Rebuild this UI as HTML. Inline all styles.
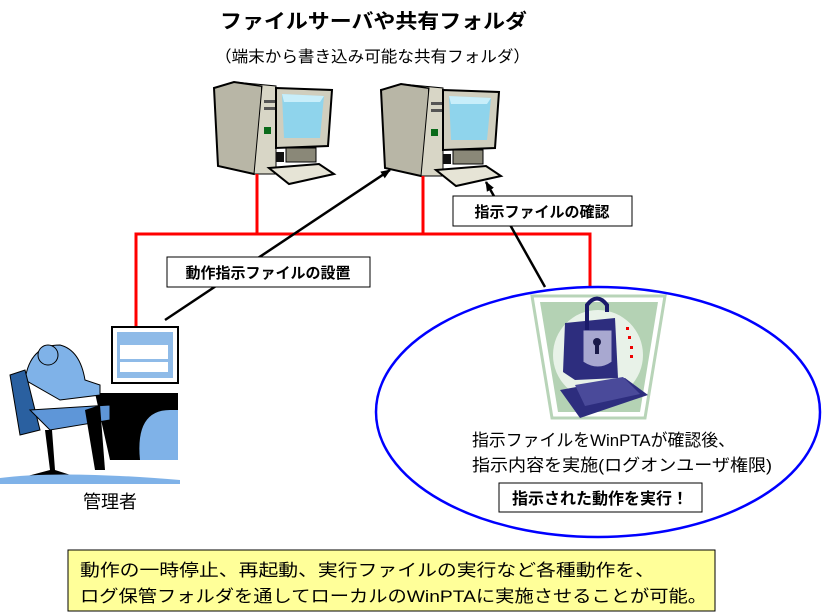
<!DOCTYPE html>
<html><head><meta charset="utf-8"><style>
html,body{margin:0;padding:0;background:#fff;}
svg{display:block;font-family:"Liberation Sans","Noto Sans CJK JP",sans-serif;}
</style></head><body>
<svg width="826" height="615" viewBox="0 0 826 615" xmlns="http://www.w3.org/2000/svg">
<defs>
<marker id="ah" markerWidth="10" markerHeight="10" refX="9" refY="5" orient="auto" markerUnits="userSpaceOnUse">
<path d="M0,1 L10,5 L0,9 z" fill="#000"/></marker>
<g id="pc">
 <path d="M0,6 L20,0 L48,4 L50,82 L40,92 L4,84 Z" fill="#b8b6a6" stroke="#000" stroke-width="2"/>
 <path d="M20,0 L62,4 L62,92 L40,92 L48,4 Z" fill="#d8d6c6" stroke="#000" stroke-width="1"/>
 <rect x="50" y="18" width="18" height="3" fill="#555"/>
 <rect x="50" y="25" width="18" height="3" fill="#555"/>
 <rect x="50" y="45" width="7" height="7" fill="#0a6a1a"/>
 <path d="M62,6 L118,8 L114,64 L62,66 Z" fill="#d0cebe" stroke="#000" stroke-width="2"/>
 <path d="M68,12 L110,14 L106,56 L70,56 Z" fill="#8fd4ec"/>
 <path d="M68,12 L110,14 L106,20 L70,20 Z" fill="#c8eefa"/>
 <rect x="72" y="66" width="30" height="14" fill="#8a8878" stroke="#000"/>
 <rect x="62" y="70" width="8" height="10" fill="#111"/>
 <path d="M55,86 L105,82 L120,92 L75,102 Z" fill="#e6e4d6" stroke="#000" stroke-width="2"/>
</g>
</defs>

<text x="220" y="28" font-size="20" font-weight="bold" textLength="307" lengthAdjust="spacingAndGlyphs">ファイルサーバや共有フォルダ</text>
<text x="215" y="62" font-size="16" textLength="315" lengthAdjust="spacingAndGlyphs">（端末から書き込み可能な共有フォルダ）</text>

<use href="#pc" x="214" y="82"/>
<use href="#pc" x="381" y="84"/>

<g stroke="#f00" stroke-width="3" fill="none">
<line x1="257" y1="174" x2="257" y2="234"/>
<line x1="423" y1="176" x2="423" y2="234"/>
<polyline points="136,330 136,234 590,234 590,288"/>
</g>

<line x1="165" y1="320" x2="390" y2="170" stroke="#000" stroke-width="2.5" marker-end="url(#ah)"/>
<line x1="545" y1="287" x2="486" y2="182" stroke="#000" stroke-width="2.5" marker-end="url(#ah)"/>

<rect x="167" y="257" width="203" height="30" fill="#fff" stroke="#000"/>
<text x="268" y="278" font-size="15" font-weight="bold" text-anchor="middle">動作指示ファイルの設置</text>
<rect x="453" y="196" width="179" height="30" fill="#fff" stroke="#000"/>
<text x="542" y="217" font-size="15" font-weight="bold" text-anchor="middle">指示ファイルの確認</text>

<ellipse cx="598" cy="412" rx="222" ry="125" fill="#fff" stroke="#00f" stroke-width="2.5"/>

<path d="M532,296 L665,296 L645,418 L552,418 Z" fill="#fff" stroke="#b8d4b8" stroke-width="3"/>
<path d="M540,302 L658,302 L640,412 L558,412 Z" fill="#b4d2b4"/>
<ellipse cx="598" cy="355" rx="45" ry="45" fill="#e8f2e8"/>
<path d="M565,323 L615,318 L618,378 L575,380 L563,372 Z" fill="#2d2d7e"/>
<path d="M583,330 L612,330 L612,362 Q598,372 583,362 Z" fill="#a8a8d0" stroke="#2d2d7e"/>
<circle cx="597" cy="342" r="4" fill="#1a1a4a"/>
<path d="M595,344 L599,344 L599,354 L595,354 Z" fill="#1a1a4a"/>
<path d="M587,330 L587,305 Q597,292 607,305 L607,312" fill="none" stroke="#1a1a6a" stroke-width="4"/>
<path d="M560,390 L625,378 L648,395 L580,418 Z" fill="#2d2d7e"/>
<path d="M575,385 L623,377 L640,394 L585,406 Z" fill="#4a4a9a"/>
<g fill="#e00"><rect x="626" y="327" width="3" height="3"/><rect x="628" y="336" width="3" height="3"/><rect x="630" y="346" width="3" height="3"/><rect x="630" y="355" width="3" height="3"/></g>

<text x="472" y="446" font-size="17" textLength="263" lengthAdjust="spacingAndGlyphs">指示ファイルをWinPTAが確認後、</text>
<text x="472" y="471" font-size="17" textLength="300" lengthAdjust="spacingAndGlyphs">指示内容を実施(ログオンユーザ権限)</text>
<rect x="499" y="483" width="203" height="29" fill="#fff" stroke="#000"/>
<text x="600" y="504" font-size="16" font-weight="bold" text-anchor="middle">指示された動作を実行！</text>

<g>
 <rect x="112" y="327" width="66" height="56" fill="#fff" stroke="#000" stroke-width="2"/>
 <rect x="117" y="332" width="56" height="46" fill="#8fbbe8"/>
 <rect x="120" y="345" width="48" height="14" fill="#fff"/>
 <rect x="120" y="362" width="48" height="10" fill="#fff"/>
 <path d="M95,393 L178,393 L178,460 L110,460 Z" fill="#000"/>
 <path d="M140,460 Q135,410 170,410 L178,410 L178,460 Z" fill="#7fb2e8"/>
 <path d="M25,380 Q30,345 60,345 Q80,350 85,380 L100,385 L100,395 L60,400 Z" fill="#7fb2e8" stroke="#000"/>
 <circle cx="48" cy="355" r="10" fill="#7fb2e8" stroke="#000"/>
 <path d="M10,375 L25,370 L40,430 L20,435 Z" fill="#2a60a0" stroke="#000"/>
 <path d="M30,410 L110,405 L110,420 L50,430 Z" fill="#5e96d8" stroke="#000"/>
 <path d="M85,410 L95,470 L105,470 L100,405 Z" fill="#000"/>
 <path d="M45,430 L50,470 L20,478 L80,478 L55,470 L52,430 Z" fill="#000"/>
 <path d="M0,478 Q60,470 180,480 L180,484 L0,484 Z" fill="#7fb2e8"/>
</g>
<text x="110" y="508" font-size="18" text-anchor="middle">管理者</text>

<rect x="68" y="550" width="647" height="61" fill="#ffff99" stroke="#000"/>
<text x="80" y="576" font-size="17" textLength="575" lengthAdjust="spacingAndGlyphs">動作の一時停止、再起動、実行ファイルの実行など各種動作を、</text>
<text x="80" y="602" font-size="17" textLength="627" lengthAdjust="spacingAndGlyphs">ログ保管フォルダを通してローカルのWinPTAに実施させることが可能。</text>
</svg>
</body></html>
